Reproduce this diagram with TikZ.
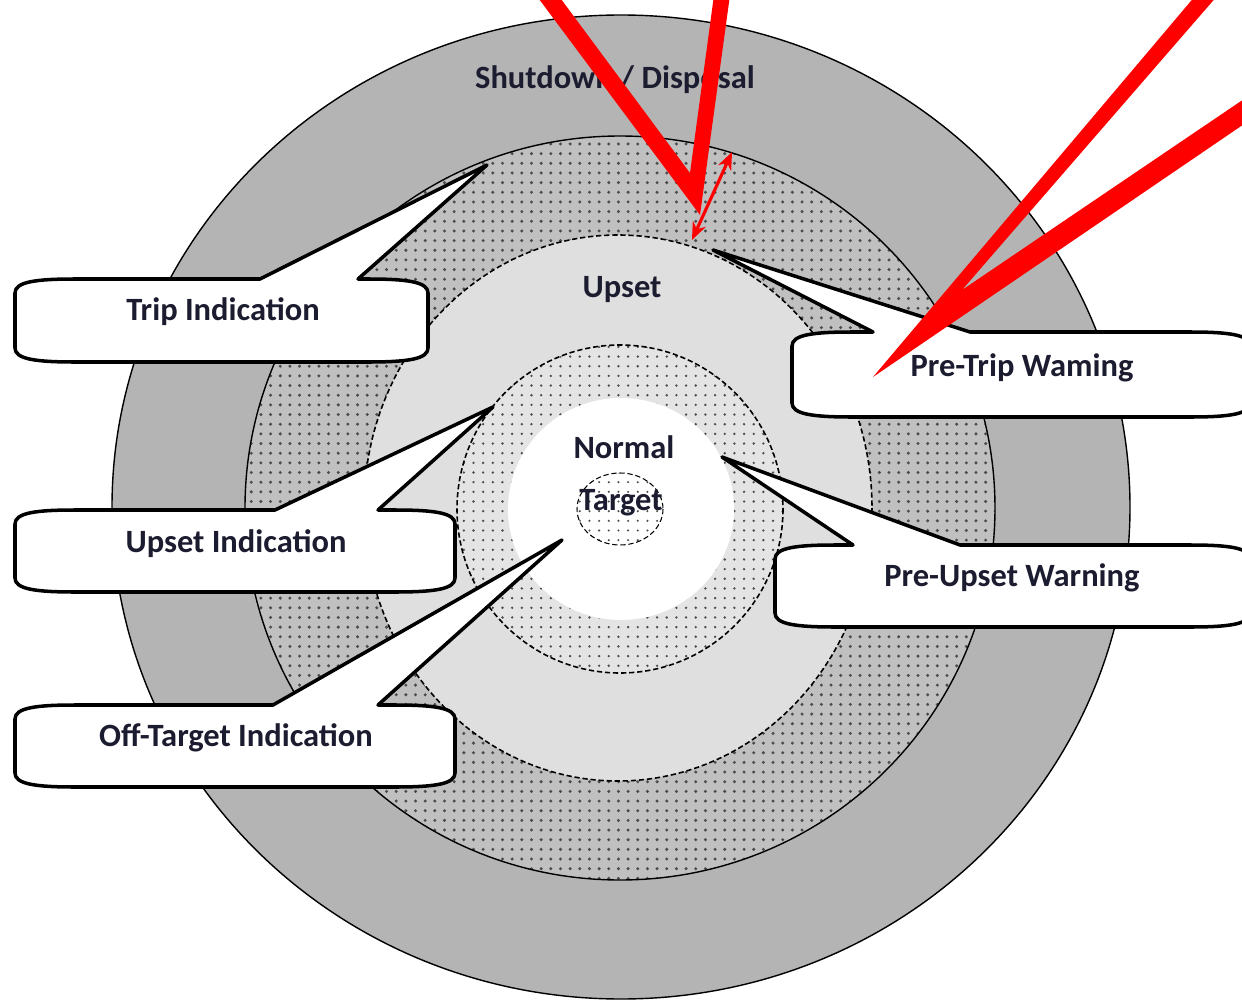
\documentclass[tikz,border=0pt]{standalone}
\usepackage{fontspec}
\setmainfont{Carlito}
\usetikzlibrary{patterns.meta,arrows.meta}

\definecolor{shutgray}{RGB}{180,180,180}
\definecolor{tripgray}{RGB}{192,192,192}
\definecolor{upsetgray}{RGB}{223,223,223}
\definecolor{normgray}{RGB}{228,228,228}
\definecolor{inkblue}{RGB}{28,28,48}

\tikzset{
  zone/.style={draw=black, line width=0.8pt},
  dashzone/.style={draw=black, line width=0.9pt, dash pattern=on 3pt off 1.6pt},
  dotty/.style={pattern={Dots[radius=#1,distance=5.5pt]}, pattern color=black!70},
  bubbleline/.style={draw=black, fill=white, line width=2pt, line join=round},
  lbl/.style={font=\fontsize{18.5}{20}\selectfont\bfseries, text=inkblue, inner sep=0pt},
  redmark/.style={fill=red, draw=none},
}

\newcommand{\bubble}[7]{%
  \draw[bubbleline] (#1,#4-14) -- (#1,#2+14)
    .. controls (#1,#2+3) and (#1+20,#2) .. (#1+60,#2)
    -- (#5,#2) -- #6 -- (#7,#2) -- (#3-60,#2)
    .. controls (#3-20,#2) and (#3,#2+3) .. (#3,#2+14)
    -- (#3,#4-14) .. controls (#3,#4-3) and (#3-20,#4) .. (#3-60,#4)
    -- (#1+60,#4) .. controls (#1+20,#4) and (#1,#4-3) .. cycle;}

\begin{document}
\begin{tikzpicture}[x=0.02cm, y=-0.02cm]
  \useasboundingbox (0,0) rectangle (1242,1004);
  \clip (0,0) rectangle (1242,1004);

  \draw[zone, fill=shutgray] (621,507) ellipse [x radius=509, y radius=492];
  \path[zone, preaction={fill=tripgray}, dotty=0.95pt] (620,508) ellipse [x radius=375, y radius=372];
  \draw[dashzone, fill=upsetgray] (618,508) ellipse [x radius=254, y radius=273];
  \path[dashzone, preaction={fill=normgray}, dotty=0.75pt] (620,509) ellipse [x radius=163, y radius=164];
  \fill[white] (621,509) ellipse [x radius=113, y radius=111];
  \path[dashzone, line width=0.6pt, preaction={fill=white}, dotty=0.65pt] (620,509) ellipse [x radius=43, y radius=36];

  \coordinate (tripTip) at (487,165);
  \coordinate (pretripTip) at (713,250);
  \coordinate (upsetTip) at (493,407);
  \coordinate (offTip) at (562,540);
  \coordinate (preupsetTip) at (722,457);

  \bubble{15}{279}{428}{362}{260}{(tripTip)}{358}
  \bubble{792}{332}{1250}{417}{873}{(pretripTip)}{970}
  \bubble{15}{510}{455}{592}{275}{(upsetTip)}{378}
  \bubble{775}{545}{1250}{627}{853}{(preupsetTip)}{960}
  \bubble{15}{705}{455}{787}{273}{(offTip)}{378}

  \node[lbl] (shutdown) at (615,80) {Shutdown / Disposal};
  \node[lbl] (upset) at (622,290) {Upset};
  \node[lbl] (normal) at (624,447) {Normal};
  \node[lbl] (target) at (621,503) {Target};
  \node[lbl] (trip) at (223,312) {Trip Indication};
  \node[lbl] (pretrip) at (1022,368) {Pre-Trip Waming};
  \node[lbl] (upsetind) at (236,544) {Upset Indication};
  \node[lbl] (preupset) at (1012,578) {Pre-Upset Warning};
  \node[lbl] (offtarget) at (236,738) {Off-Target Indication};

  \coordinate (gapLow) at (692,240);
  \coordinate (gapHigh) at (732,152);
  \fill[redmark] (536,-5) -- (700,215) -- (730,-5) -- (714,-5) -- (690,173) -- (558,-5) -- cycle;
  \fill[redmark] (1196,-5) -- (873,377) -- (1250,120) -- (1250,95) -- (962,290) -- (1218,-5) -- cycle;
  \draw[red, line width=1.8pt, {Stealth[length=10pt,width=8pt]}-{Stealth[length=10pt,width=8pt]}] (gapLow) -- (gapHigh);
\end{tikzpicture}
\end{document}
